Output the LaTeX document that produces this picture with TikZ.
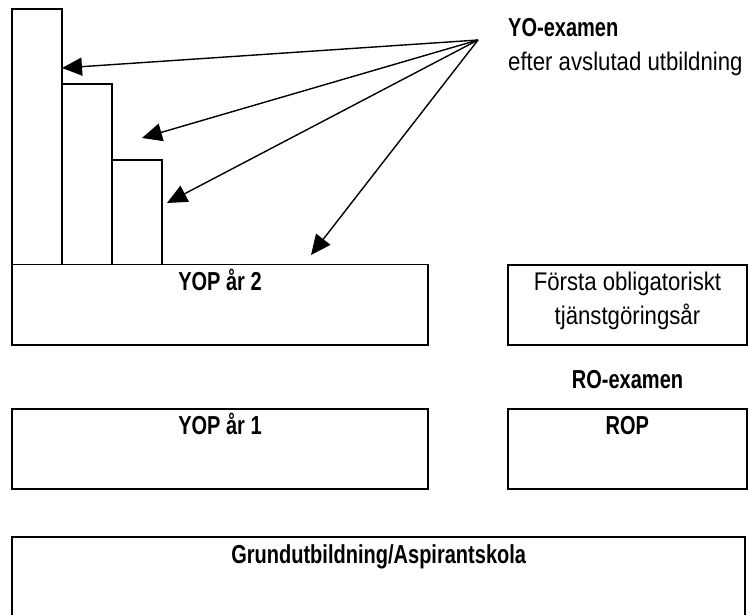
\documentclass[tikz,border=0pt]{standalone}
\usepackage{fontspec}
\setmainfont{Liberation Sans}[FakeStretch=0.87]
\newfontfamily\headfont{Liberation Sans}[FakeStretch=0.77]
\usetikzlibrary{arrows.meta}

\begin{document}
\begin{tikzpicture}[x=1pt,y=-1pt,
  box/.style={draw, line width=1.8pt, inner sep=0pt, outer sep=0pt, anchor=north west},
  head/.style={font=\headfont\bfseries\fontsize{26}{31}\selectfont, anchor=base, inner sep=0pt},
  plain/.style={font=\fontsize{25.5}{30}\selectfont, anchor=base, inner sep=0pt},
  pointer/.style={line width=1.4pt, -{Triangle[length=20pt,width=18pt]}}]
\useasboundingbox (0,0) rectangle (749,615);
\clip (0,0) rectangle (749,615);

% staircase of bars standing on the second-year box
\node[box, minimum width=49.7pt, minimum height=255.5pt] (bar1) at (12,9) {};
\node[box, minimum width=50pt, minimum height=180.2pt] (bar2) at (61.7,84.3) {};
\node[box, minimum width=50pt, minimum height=104.8pt] (bar3) at (111.7,159.7) {};

% main boxes
\node[box, minimum width=416pt, minimum height=80.2pt] (yop2) at (12,264.5) {};
\node[box, minimum width=239.5pt, minimum height=80pt] (tj) at (507.7,264.7) {};
\node[box, minimum width=416pt, minimum height=80pt] (yop1) at (12,409) {};
\node[box, minimum width=239.3pt, minimum height=80pt] (rop) at (507.7,409) {};
\node[box, minimum width=733.3pt, minimum height=120pt] (grund) at (12,536.7) {};

% box captions
\node[head, yshift=-26pt] (yop2t) at (yop2.north) {YOP år 2};
\node[head, yshift=-25pt] (yop1t) at (yop1.north) {YOP år 1};
\node[head, yshift=-25pt] (ropt) at (rop.north) {ROP};
\node[head, yshift=-27pt] (grundt) at (grund.north) {Grundutbildning/Aspirantskola};
\node[plain, yshift=-26pt] (tj1) at (tj.north) {Första obligatoriskt};
\node[plain, yshift=-60pt] (tj2) at (tj.north) {tjänstgöringsår};

% free labels
\node[head, anchor=base west] (yo) at (508,37) {YO-examen};
\node[plain, anchor=base west] (yosub) at (508,71) {efter avslutad utbildning};
\node[head] (ro) at (627.5,388) {RO-examen};

% arrows fanning out from the exam label
\coordinate (src) at (478,40);
\coordinate (t1) at (62,68);
\coordinate (t2) at (142,138);
\coordinate (t3) at (167,203);
\coordinate (t4) at (311,255);
\draw[pointer] (src) -- (t1);
\draw[pointer] (src) -- (t2);
\draw[pointer] (src) -- (t3);
\draw[pointer] (src) -- (t4);
\end{tikzpicture}
\end{document}
